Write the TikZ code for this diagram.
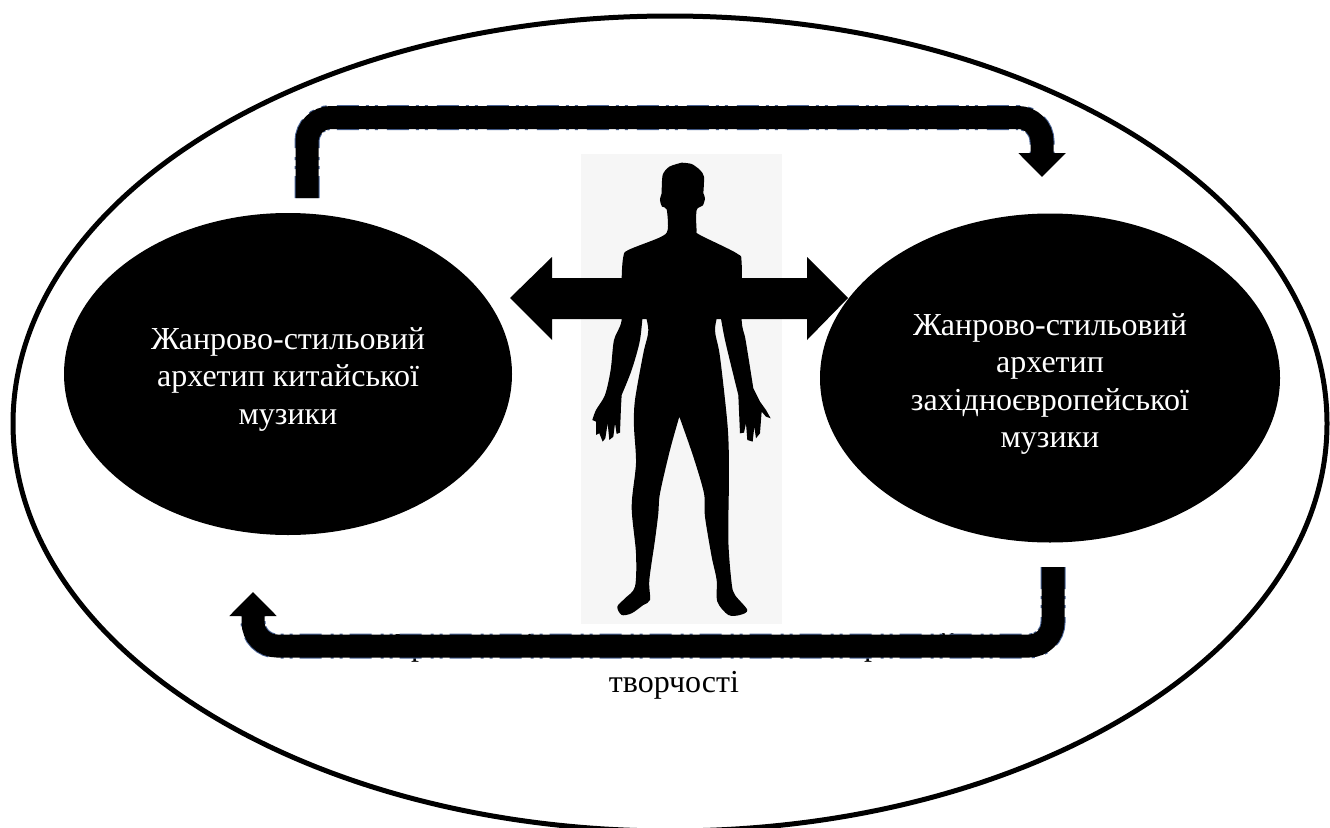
\documentclass[tikz,border=0pt]{standalone}
\usepackage{fontspec}
\setmainfont{Liberation Serif}
\usetikzlibrary{arrows.meta,shapes.geometric}
\definecolor{fringe}{HTML}{4A6496}
\definecolor{figbg}{HTML}{F6F6F6}
\tikzset{
  big/.style={ellipse,draw=black,line width=5pt,fill=white,inner sep=0,minimum width=1314pt,minimum height=815pt},
  blob/.style={ellipse,fill=black,inner sep=0},
  lbl/.style={font=\fontsize{32}{37.5}\selectfont,align=center,text=white,inner sep=0},
  dark/.style={font=\fontsize{32}{37.5}\selectfont,text=black,inner sep=0,anchor=base},
  band/.style={line width=23pt,rounded corners=24pt},
  edgeline/.style={line width=25pt,rounded corners=24pt,color=fringe,dash pattern=on 22pt off 7pt on 3pt off 6pt on 3pt off 9pt},
  headtip/.style={-{Triangle[length=24pt,width=46pt]}}
}
\begin{document}
\begin{tikzpicture}[x=1pt,y=-1pt]
\useasboundingbox (0,0) rectangle (1330,827);
\clip (0,0) rectangle (1330,827);
\fill[white] (0,0) rectangle (1330,827);
\node[big] (outer) at (670,423.5) {};
\node[blob,minimum width=448pt,minimum height=322pt] (chinese) at (288,374) {};
\node[lbl] (chinesetext) at (288,379) {Жанрово-стильовий\\архетип китайської\\музики};
\node[blob,minimum width=460pt,minimum height=329pt] (western) at (1050,378) {};
\node[lbl] (westerntext) at (1050,384) {Жанрово-стильовий\\архетип\\західноєвропейської\\музики};
% figure backdrop
\fill[figbg] (581,154) rectangle (782,624);
% double arrow
\coordinate (dl) at (510,298);
\coordinate (dr) at (848,298);
\fill[black] (dl) -- (552,257) -- (552,278) -- (807,278) -- (807,257) -- (dr) -- (807,340) -- (807,319) -- (552,319) -- (552,340) -- cycle;
% silhouette
\begin{scope}[shift={(560,140)},x=0.3333pt,y=-0.3333pt]
\fill[black]
 plot[smooth,tension=0.45] coordinates {(365,68)(328,80)(308,105)(305,160)}
 -- plot[smooth,tension=0.5] coordinates {(305,160)(300,180)(306,200)(320,208)(323,270)(300,292)(205,330)(190,350)(185,415)(185,540)(162,600)(152,690)(135,765)(108,810)(97,840)}
 -- (108,845) -- (108,885) -- (118,880) -- (128,905) -- (136,895) -- (143,850) -- (148,900) -- (160,890) -- (165,850) -- (170,882) -- (180,878) -- (183,800) -- (185,765)
 -- plot[smooth,tension=0.5] coordinates {(185,765)(215,690)(240,600)(250,500)}
 -- plot[smooth,tension=0.5] coordinates {(250,500)(265,570)(250,640)(225,780)(222,860)(228,970)(215,1100)(228,1240)(225,1340)(195,1375)(172,1400)(185,1425)(215,1420)(250,1395)(270,1380)(268,1320)(285,1200)(295,1120)(300,1060)(330,930)(358,830)}
 -- plot[smooth,tension=0.5] coordinates {(358,830)(400,950)(432,1060)(435,1130)(455,1250)(470,1320)(472,1385)(505,1425)(540,1425)(562,1410)(525,1365)(515,1330)(505,1200)(507,1000)(503,860)(480,650)(465,570)(478,505)}
 -- plot[smooth,tension=0.5] coordinates {(478,505)(495,600)(535,765)}
 -- (540,880) -- (552,878) -- (558,850) -- (562,900) -- (578,905) -- (583,860) -- (588,895) -- (600,880) -- (605,815) -- (618,830) -- (632,835) -- (618,810) -- (600,785) -- (580,745)
 -- plot[smooth,tension=0.5] coordinates {(580,745)(565,650)(555,590)(545,540)(545,370)(530,340)(420,285)(410,270)(410,210)(428,197)(435,175)(430,160)}
 -- plot[smooth,tension=0.45] coordinates {(430,160)(432,110)(420,90)(395,72)(365,68)}
 -- cycle;
\end{scope}
% first text line, legible only where the arrow leaves it uncovered
\node[dark] (ta) at (405,655) {Т};
\node[dark] (tb) at (419,655) {р};
\node[dark] (tc) at (530,655) {і};
\node[dark] (td) at (872,655) {р};
\node[dark] (te) at (948,655) {й};
\node[dark] (creative) at (674,692) {творчості};
% top arrow
\coordinate (ta1) at (307,198);
\coordinate (ta2) at (307,117.5);
\coordinate (ta3) at (1042,117.5);
\coordinate (ta4) at (1042,177);
\draw[edgeline] (ta1) -- (ta2) -- (ta3) -- (1042,155);
\draw[band,headtip] (ta1) -- (ta2) -- (ta3) -- (ta4);
% bottom arrow
\coordinate (ba1) at (1053,567);
\coordinate (ba2) at (1053,646);
\coordinate (ba3) at (253,646);
\coordinate (ba4) at (253,592);
\draw[edgeline] (ba1) -- (ba2) -- (ba3) -- (253,612);
\draw[band,headtip] (ba1) -- (ba2) -- (ba3) -- (ba4);
\end{tikzpicture}
\end{document}
